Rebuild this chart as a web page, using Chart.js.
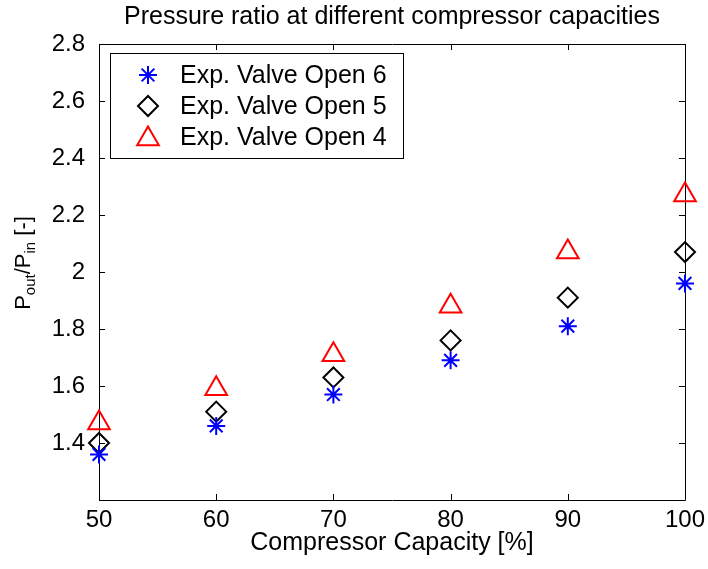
<!DOCTYPE html>
<html>
<head>
<meta charset="utf-8">
<script src="https://cdn.jsdelivr.net/npm/chart.js@4.4.1/dist/chart.umd.min.js"></script>
<style>
  html, body { margin: 0; padding: 0; background: #fff; }
</style>
</head>
<body>
<canvas id="myChart" width="708" height="569"></canvas>
<script>
// compressor capacity [%] and measured pressure ratios per valve opening
const capacities = [50, 60, 70, 80, 90, 100];
const valveOpen6 = [1.36, 1.46, 1.57, 1.69, 1.81, 1.96];
const valveOpen5 = [1.40, 1.51, 1.63, 1.76, 1.91, 2.07];
const valveOpen4 = [1.47, 1.59, 1.71, 1.88, 2.07, 2.27];
const seriesNames = ['Exp. Valve Open 6', 'Exp. Valve Open 5', 'Exp. Valve Open 4'];

const xTicks = [50, 60, 70, 80, 90, 100];
const yTicks = [1.2, 1.4, 1.6, 1.8, 2, 2.2, 2.4, 2.6, 2.8];

const chartTitle = 'Pressure ratio at different compressor capacities';
const FONT = 'Liberation Sans, Arial, sans-serif';

const toPoints = vals => vals.map((v, i) => ({ x: capacities[i], y: v }));

// matlab-like box with inward tick marks on all four sides
const axesBox = {
  id: 'axesBox',
  beforeDatasetsDraw(chart) {
    const { ctx, chartArea: a, scales: { x, y } } = chart;
    const tl = 6;
    ctx.save();
    ctx.strokeStyle = '#000';
    ctx.lineWidth = 1;
    ctx.beginPath();
    ctx.rect(a.left + 0.5, a.top + 0.5, a.right - a.left, a.bottom - a.top);
    xTicks.forEach(v => {
      const px = Math.round(x.getPixelForValue(v)) + 0.5;
      ctx.moveTo(px, a.bottom); ctx.lineTo(px, a.bottom - tl);
      ctx.moveTo(px, a.top); ctx.lineTo(px, a.top + tl);
    });
    yTicks.forEach(v => {
      const py = Math.round(y.getPixelForValue(v)) + 0.5;
      ctx.moveTo(a.left, py); ctx.lineTo(a.left + tl, py);
      ctx.moveTo(a.right, py); ctx.lineTo(a.right - tl, py);
    });
    ctx.stroke();
    ctx.restore();
  }
};

// title centred over the axes, plus y axis title with subscripts: P_out/P_in [-]
const titles = {
  id: 'titles',
  afterDraw(chart) {
    const { ctx, chartArea: a } = chart;
    ctx.save();
    ctx.fillStyle = '#000';
    ctx.font = '25px ' + FONT;
    ctx.textAlign = 'center';
    ctx.textBaseline = 'alphabetic';
    ctx.fillText(chartTitle, (a.left + a.right) / 2, 24);

    const parts = [
      ['P', 22, 0], ['out', 15, 5], ['/P', 22, 0], ['in', 15, 5], [' [-]', 22, 0]
    ];
    ctx.textAlign = 'left';
    let total = 0;
    parts.forEach(p => { ctx.font = p[1] + 'px ' + FONT; total += ctx.measureText(p[0]).width; });
    ctx.translate(22, (a.top + a.bottom) / 2 - 9);
    ctx.rotate(-Math.PI / 2);
    let cx = -total / 2;
    parts.forEach(p => {
      ctx.font = p[1] + 'px ' + FONT;
      ctx.fillText(p[0], cx, 8 + p[2]);
      cx += ctx.measureText(p[0]).width;
    });
    ctx.restore();
  }
};

// legend box in the upper left corner of the axes
const boxLegend = {
  id: 'boxLegend',
  afterDraw(chart) {
    const { ctx, chartArea: a } = chart;
    const left = a.left + 11, top = a.top + 9, w = 293, h = 105;
    ctx.save();
    ctx.fillStyle = '#fff';
    ctx.strokeStyle = '#000';
    ctx.lineWidth = 1;
    ctx.fillRect(left, top, w, h);
    ctx.strokeRect(left + 0.5, top + 0.5, w, h);
    ctx.font = '25px ' + FONT;
    ctx.textBaseline = 'middle';
    chart.data.datasets.forEach((ds, i) => {
      const yy = top + 22 + i * 31;
      ctx.strokeStyle = ds.borderColor;
      ctx.fillStyle = 'rgba(0,0,0,0)';
      ctx.lineWidth = ds.pointBorderWidth;
      Chart.helpers.drawPoint(ctx, {
        pointStyle: ds.pointStyle, radius: ds.pointRadius, rotation: 0, borderWidth: ds.pointBorderWidth
      }, left + 38, yy + (ds.pointStyle === 'triangle' ? 2 : 0));
      ctx.fillStyle = '#000';
      ctx.fillText(ds.label, left + 70, yy + 1);
    });
    ctx.restore();
  }
};

const ctx = document.getElementById('myChart').getContext('2d');
const myChart = new Chart(ctx, {
  type: 'scatter',
  data: {
    datasets: [
      {
        label: seriesNames[0], data: toPoints(valveOpen6), pointStyle: 'star',
        pointRadius: 9, pointBorderWidth: 2, borderColor: '#0000ff', backgroundColor: 'rgba(0,0,0,0)', clip: false
      },
      {
        label: seriesNames[1], data: toPoints(valveOpen5), pointStyle: 'rectRot',
        pointRadius: 10, pointBorderWidth: 2, borderColor: '#000000', backgroundColor: 'rgba(0,0,0,0)', clip: false
      },
      {
        label: seriesNames[2], data: toPoints(valveOpen4), pointStyle: 'triangle',
        pointRadius: 12.5, pointBorderWidth: 2, borderColor: '#ff0000', backgroundColor: 'rgba(0,0,0,0)', clip: false
      }
    ]
  },
  options: {
    responsive: false,
    animation: false,
    layout: { padding: { top: 44, right: 23, left: 0, bottom: 0 } },
    elements: { point: { hoverRadius: 0 } },
    plugins: {
      legend: { display: false },
      tooltip: { enabled: false },
      title: { display: false }
    },
    scales: {
      x: {
        type: 'linear', min: 50, max: 100,
        afterBuildTicks: s => { s.ticks = xTicks.map(v => ({ value: v })); },
        afterFit: s => { s.height = 69; },
        grid: { display: false }, border: { display: false },
        ticks: { color: '#000', font: { family: FONT, size: 24 }, padding: -2, maxRotation: 0 },
        title: {
          display: true, text: 'Compressor Capacity [%]', color: '#000',
          font: { family: FONT, size: 25 }, padding: { top: 0, bottom: 11 }
        }
      },
      y: {
        type: 'linear', min: 1.2, max: 2.8,
        afterBuildTicks: s => { s.ticks = yTicks.map(v => ({ value: v })); },
        afterFit: s => { s.width = 99; },
        grid: { display: false }, border: { display: false },
        ticks: {
          color: '#000', font: { family: FONT, size: 24 }, padding: 6,
          callback: v => (v === 1.2 ? '' : String(v))
        }
      }
    }
  },
  plugins: [axesBox, titles, boxLegend]
});
</script>
</body>
</html>
